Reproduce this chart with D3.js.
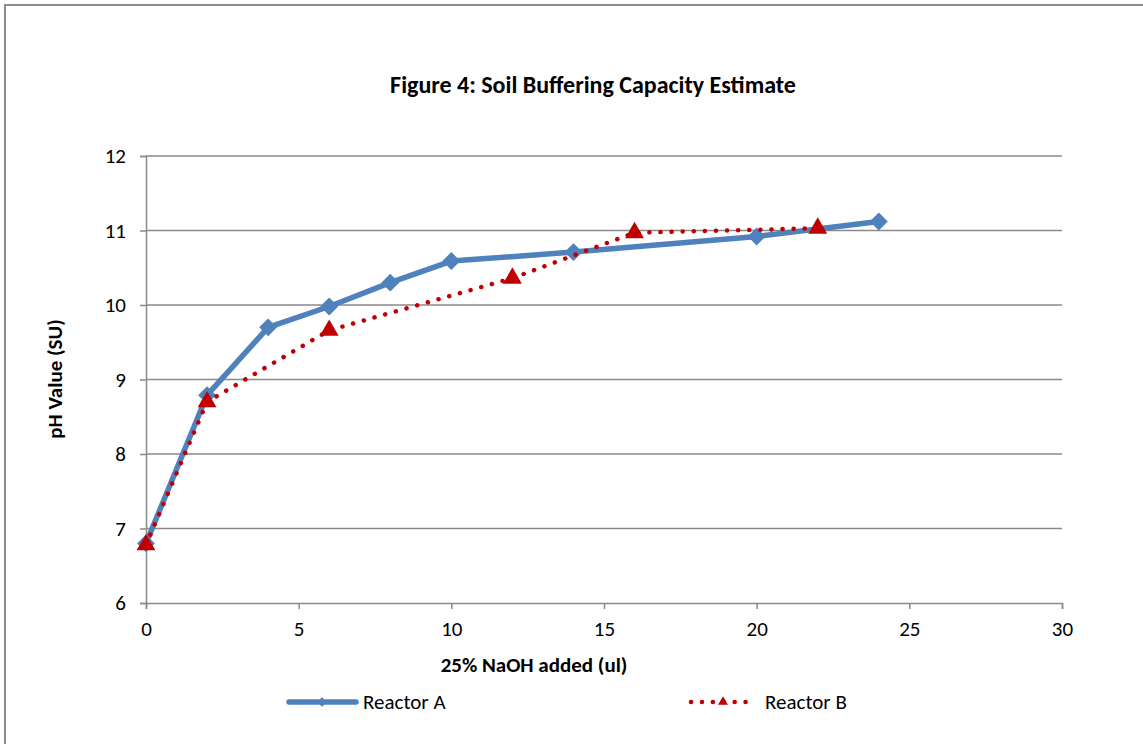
<!DOCTYPE html>
<html>
<head>
<meta charset="utf-8">
<script src="https://cdn.jsdelivr.net/npm/d3@7"></script>
<style>
  body { margin: 0; background: #fff; }
  svg { display: block; font-family: Carlito, Lato, "Open Sans", sans-serif; }
</style>
</head>
<body>
<div id="chart"></div>
<script>
// <------ DATA ------>
var reactorAX = [0, 2, 4, 6, 8, 10, 14, 20, 24];
var reactorAY = [6.80, 8.79, 9.70, 9.98, 10.30, 10.59, 10.71, 10.92, 11.12];
var reactorBX = [0, 2, 6, 12, 16, 22];
var reactorBY = [6.78, 8.70, 9.66, 10.36, 10.97, 11.03];
var xTicks = [0, 5, 10, 15, 20, 25, 30];
var yTicks = [6, 7, 8, 9, 10, 11, 12];
var seriesNames = ["Reactor A", "Reactor B"];

var width = 1143, height = 744;
var plotLeft = 146, plotRight = 1062, plotTop = 156, plotBottom = 603;

var svg = d3.select("#chart").append("svg")
    .attr("width", width)
    .attr("height", height);

// chart area border (only left/top visible in the frame)
svg.append("rect")
    .attr("x", 5).attr("y", 5)
    .attr("width", width + 20).attr("height", height + 20)
    .style("fill", "#fff").style("stroke", "#8c8c8c").style("stroke-width", 2);

var x = d3.scaleLinear().domain([0, 30]).range([plotLeft, plotRight]);
var y = d3.scaleLinear().domain([6, 12]).range([plotBottom, plotTop]);

// gridlines
svg.append("g").selectAll("line").data(yTicks.slice(1)).enter().append("line")
    .attr("x1", plotLeft).attr("x2", plotRight)
    .attr("y1", function (d) { return y(d); })
    .attr("y2", function (d) { return y(d); })
    .style("stroke", "#8a8a8a").style("stroke-width", 1.5);

// axes
var yAxis = svg.append("g").attr("transform", "translate(" + plotLeft + ",0)")
    .call(d3.axisLeft(y).tickValues(yTicks).tickFormat(d3.format("d")).tickSize(6).tickPadding(14));
var xAxis = svg.append("g").attr("transform", "translate(0," + plotBottom + ")")
    .call(d3.axisBottom(x).tickValues(xTicks).tickFormat(d3.format("d")).tickSize(6).tickPadding(12));
[xAxis, yAxis].forEach(function (a) {
  a.select(".domain").style("stroke", "#8a8a8a").style("stroke-width", 1.5);
  a.selectAll(".tick line").style("stroke", "#8a8a8a").style("stroke-width", 1.5);
  a.selectAll("text").style("font-size", "21px").style("fill", "#000")
    .style("font-family", "Carlito, Lato, 'Open Sans', sans-serif");
});

// titles
svg.append("text").attr("x", 593).attr("y", 93)
    .style("text-anchor", "middle").style("font-weight", "bold").style("font-size", "24px")
    .text("Figure 4: Soil Buffering Capacity Estimate");
svg.append("text").attr("x", 534).attr("y", 672)
    .style("text-anchor", "middle").style("font-weight", "bold").style("font-size", "21px")
    .text("25% NaOH added (ul)");
svg.append("text").attr("transform", "translate(62,379) rotate(-90)")
    .style("text-anchor", "middle").style("font-weight", "bold").style("font-size", "21px")
    .text("pH Value (SU)");

var line = d3.line().x(function (d) { return x(d[0]); }).y(function (d) { return y(d[1]); });
var dataA = d3.zip(reactorAX, reactorAY);
var dataB = d3.zip(reactorBX, reactorBY);

var blue = "#4f81bd", red = "#c00000";
var diamond = d3.symbol().type(d3.symbolDiamond2).size(205);
var triangle = d3.symbol().type(d3.symbolTriangle2).size(255);

// Reactor A
svg.append("path").datum(dataA).attr("d", line)
    .style("fill", "none").style("stroke", blue).style("stroke-width", 5.5)
    .style("stroke-linejoin", "round");
svg.append("g").selectAll("path").data(dataA).enter().append("path")
    .attr("d", diamond)
    .attr("transform", function (d) { return "translate(" + x(d[0]) + "," + y(d[1]) + ")"; })
    .style("fill", blue);

// Reactor B
svg.append("path").datum(dataB).attr("d", line)
    .style("fill", "none").style("stroke", red).style("stroke-width", 4.5)
    .style("stroke-linecap", "round").style("stroke-dasharray", "0.1 11");
svg.append("g").selectAll("path").data(dataB).enter().append("path")
    .attr("d", triangle)
    .attr("transform", function (d) { return "translate(" + x(d[0]) + "," + y(d[1]) + ")"; })
    .style("fill", red);

// legend
var legend = svg.append("g");
legend.append("line").attr("x1", 289).attr("x2", 356).attr("y1", 702).attr("y2", 702)
    .style("stroke", blue).style("stroke-width", 5.5).style("stroke-linecap", "round");
legend.append("path").attr("d", d3.symbol().type(d3.symbolDiamond2).size(60))
    .attr("transform", "translate(322,702)").style("fill", blue);
legend.append("text").attr("x", 363).attr("y", 709).style("font-size", "21px").text(seriesNames[0]);

legend.append("line").attr("x1", 691).attr("x2", 756).attr("y1", 702).attr("y2", 702)
    .style("stroke", red).style("stroke-width", 4.5).style("stroke-linecap", "round")
    .style("stroke-dasharray", "0.1 10.8");
legend.append("path").attr("d", d3.symbol().type(d3.symbolTriangle2).size(70))
    .attr("transform", "translate(723,702)").style("fill", red);
legend.append("text").attr("x", 765).attr("y", 709).style("font-size", "21px").text(seriesNames[1]);
</script>
</body>
</html>
